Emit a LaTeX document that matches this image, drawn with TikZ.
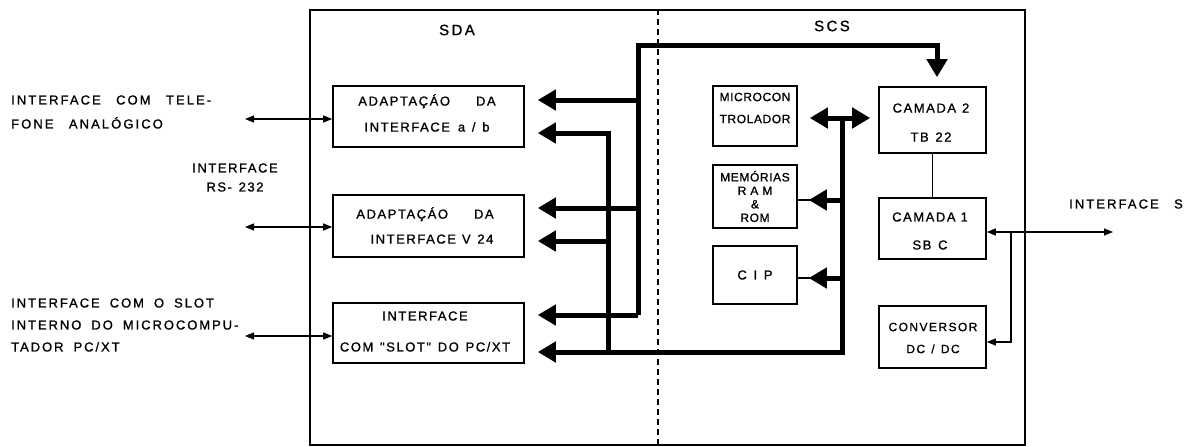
\documentclass[tikz,border=0pt]{standalone}
\usepackage{fontspec}
\setmainfont{Liberation Sans}
\newfontfamily\labfont[LetterSpace=16,WordSpace=2.7,FakeBold=1]{Liberation Sans}
\newfontfamily\boxfont[LetterSpace=12,WordSpace=1.3,FakeBold=1]{Liberation Sans}
\newfontfamily\midfont[LetterSpace=15,WordSpace=1.8,FakeBold=1]{Liberation Sans}
\newfontfamily\narrowfont[LetterSpace=5,FakeBold=1]{Liberation Sans}
\usetikzlibrary{arrows.meta}
\begin{document}
\begin{tikzpicture}[x=1pt,y=-1pt,
  box/.style={draw,line width=1.6pt,inner sep=0pt},
  txt/.style={font=\boxfont\fontsize{13}{15}\selectfont,align=center,inner sep=0pt},
  ltxt/.style={font=\labfont\fontsize{13}{15}\selectfont,align=center,inner sep=0pt},
  ntxt/.style={font=\narrowfont\fontsize{12}{14}\selectfont,align=center,inner sep=0pt},
  bus/.style={line width=5pt,line cap=butt,line join=miter},
  bigtip/.style={-{Triangle[length=18pt,width=20pt]}},
  bigboth/.style={{Triangle[length=18pt,width=20pt]}-{Triangle[length=18pt,width=20pt]}},
  thinline/.style={line width=1.1pt},
  smalltip/.style={-{Triangle[length=9pt,width=7pt]}},
  smallboth/.style={{Triangle[length=9pt,width=7pt]}-{Triangle[length=9pt,width=7pt]}},
]
\useasboundingbox[fill=white] (0,0) rectangle (1192,447);

% outer frame and divider
\node[draw,line width=1.6pt,minimum width=715pt,minimum height=435pt,inner sep=0pt] (outer) at (667.5,227.5) {};
\coordinate (dv) at (658,0);
\draw[thinline,dash pattern=on 6pt off 4pt] (outer.north -| dv) -- (outer.south -| dv);

\node[ltxt,font=\labfont\fontsize{15}{17}\selectfont] (sda) at (457,30) {SDA};
\node[ltxt,font=\labfont\fontsize{15}{17}\selectfont] (scs) at (832,26) {SCS};

% SDA boxes
\node[box,minimum width=191pt,minimum height=61pt] (b1) at (428.5,116.5) {};
\node[box,minimum width=191pt,minimum height=62pt] (b2) at (428.5,226) {};
\node[box,minimum width=191pt,minimum height=60pt] (b3) at (428.5,333) {};
\node[txt] (t1) at (427,113) {ADAPTAÇÁO\hspace{26pt}DA\\[11pt]INTERFACE\hspace{8pt}a / b};
\node[txt] (t2) at (425,225.5) {ADAPTAÇÁO\hspace{26pt}DA\\[10pt]\hspace{14pt}INTERFACE\hspace{6pt}V 24};
\node[txt] (t3) at (425,331.5) {INTERFACE\\[16pt]COM "SLOT" DO PC/XT};

% SCS boxes
\node[box,minimum width=84pt,minimum height=60pt] (mc) at (755,116) {};
\node[box,minimum width=84pt,minimum height=63pt] (mem) at (755,196.5) {};
\node[box,minimum width=84pt,minimum height=58pt] (cip) at (755,275) {};
\node[box,minimum width=107pt,minimum height=66pt] (c2) at (932.5,120) {};
\node[box,minimum width=107pt,minimum height=61pt] (c1) at (932.5,228.5) {};
\node[box,minimum width=107pt,minimum height=62pt] (cv) at (932.5,337) {};
\node[ntxt] (tmc) at (755,108) {MICROCON\\[8pt]TROLADOR};
\node[ntxt,font=\narrowfont\fontsize{12}{13.5}\selectfont] (tmem) at (755,196.5) {MEMÓRIAS\\R A M\\\&\\ROM};
\node[txt] (tcip) at (755,275) {C I P};
\node[txt] (tc2) at (931,122.5) {CAMADA\hspace{6pt}2\\[14pt]TB 22};
\node[txt] (tc1) at (930,231) {CAMADA\hspace{5pt}1\\[13pt]SB C};
\node[txt,font=\boxfont\fontsize{12}{14}\selectfont] (tcv) at (933,338) {CONVERSOR\\[8pt]DC / DC};

% bus A
\coordinate (A1) at (638,100);
\coordinate (A2) at (638,208);
\coordinate (A3) at (638,315);
\coordinate (At) at (638,45);
\coordinate (Ad) at (937,45);
\draw[bus,bigtip,shorten >=9pt] (A3) -- (At) -- (Ad) -- (Ad |- c2.north);
\draw[bus,bigtip,shorten >=13pt] (A1) -- (A1 -| b1.east);
\draw[bus,bigtip,shorten >=13pt] (A2) -- (A2 -| b2.east);
\draw[bus,bigtip,shorten >=13pt] (A3) -- (A3 -| b3.east);

% bus B
\coordinate (B1) at (608,133);
\coordinate (B2) at (608,241);
\coordinate (B3) at (608,352);
\coordinate (C3) at (842,352);
\coordinate (C0) at (842,118);
\coordinate (Cm) at (842,200);
\coordinate (Cc) at (842,278);
\draw[bus,bigtip,shorten >=13pt] (B3) -- (B1) -- (B1 -| b1.east);
\draw[bus,bigtip,shorten >=13pt] (B2) -- (B2 -| b2.east);
\draw[bus,bigtip,shorten >=13pt] (C0) -- (C3) -- (C3 -| b3.east);
\draw[bus,bigboth,shorten <=12pt,shorten >=8pt] (C0 -| mc.east) -- (C0 -| c2.west);
\draw[bus,bigtip,shorten >=11pt] (Cm) -- (Cm -| mem.east);
\draw[bus,bigtip,shorten >=11pt] (Cc) -- (Cc -| cip.east);
\draw[thinline] (Cm -| mem.east) -- ++(12,0);
\draw[thinline] (Cc -| cip.east) -- ++(12,0);

% camada link
\draw[thinline] (c2.south) -- (c1.north);

% interface S
\coordinate (sE) at (1113,232);
\coordinate (sJ) at (1011,232);
\coordinate (sK) at (1011,342);
\draw[thinline,smallboth] (sE -| c1.east) -- (sE);
\draw[thinline,smalltip] (sJ) -- (sK) -- (sK -| cv.east);
\node[ltxt,anchor=west] (ls) at (1069,204) {INTERFACE S};

% left interfaces
\coordinate (L1) at (245,119);
\coordinate (L2) at (245,227);
\coordinate (L3) at (245,336);
\draw[thinline,smallboth] (L1) -- (L1 -| b1.west);
\draw[thinline,smallboth] (L2) -- (L2 -| b2.west);
\draw[thinline,smallboth] (L3) -- (L3 -| b3.west);
\node[ltxt,align=left,anchor=west] (l1) at (11,112) {INTERFACE COM TELE-\\[9pt]FONE ANALÓGICO};
\node[txt] (l2) at (235,177.5) {INTERFACE\\[4pt]RS- 232};
\node[ltxt,font=\midfont\fontsize{13}{15}\selectfont,align=left,anchor=west] (l3) at (11,325) {INTERFACE COM O SLOT\\[7pt]INTERNO DO MICROCOMPU-\\[7pt]TADOR PC/XT};
\end{tikzpicture}
\end{document}
